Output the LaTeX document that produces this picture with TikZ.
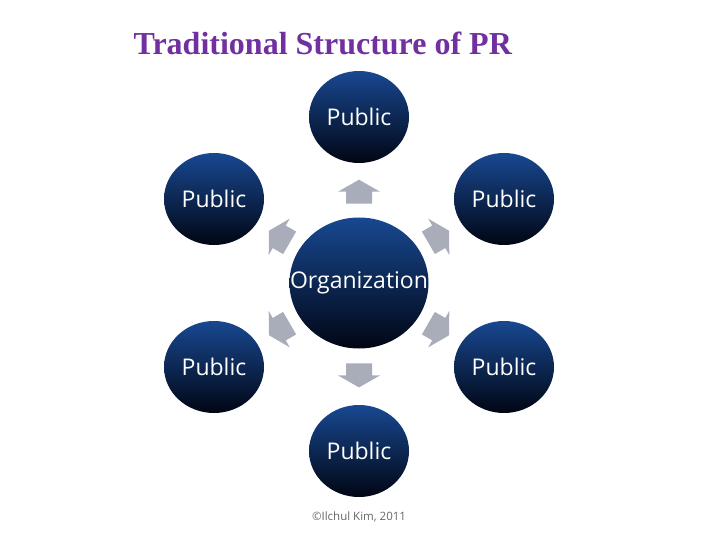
\documentclass[tikz,border=0pt]{standalone}
\usepackage{fontspec}
\setmainfont{Liberation Serif}
\newfontfamily\uifont{Open Sans}
\usetikzlibrary{shapes.geometric,positioning}

\definecolor{prblue}{RGB}{24,72,145}
\definecolor{prmid}{RGB}{14,46,100}
\definecolor{prdark}{RGB}{1,6,20}
\definecolor{prgrey}{RGB}{169,173,186}
\definecolor{prpurple}{RGB}{112,48,160}

% text that does not widen its ellipse
\newcommand{\blobtext}[1]{\makebox[0pt]{#1}}

\tikzset{
  blob/.style={ellipse, inner sep=0pt, text=white,
    top color=prblue, middle color=prmid, bottom color=prdark,
    font=\uifont\fontsize{23}{27}\selectfont},
  public/.style={blob, minimum width=100pt, minimum height=92pt},
  center/.style={blob, minimum width=139pt, minimum height=131pt},
  outarrow/.pic={
    \fill[prgrey] (-12,-13) -- (0,-13) -- (0,-21) -- (12,0)
      -- (0,21) -- (0,13) -- (-12,13) -- cycle;
  }
}

\begin{document}
\begin{tikzpicture}[x=1pt,y=-1pt]
    \useasboundingbox (0,0) rectangle (720,540);
    % \draw[help lines,step=20] (0,0) grid (720,540);
		\node[anchor=base west, text=prpurple, font=\bfseries\fontsize{32}{36}\selectfont]
		    (title) at (130,55) {Traditional Structure of PR};
		\node[center] (org)    at (359,283) {\blobtext{Organization}};
		\node[public] (pubN)   at (359,117) {\blobtext{Public}};
		\node[public] (pubNW)  at (214,199) {\blobtext{Public}};
		\node[public] (pubNE)  at (504,199) {\blobtext{Public}};
		\node[public] (pubSW)  at (214,367) {\blobtext{Public}};
		\node[public] (pubSE)  at (504,367) {\blobtext{Public}};
		\node[public] (pubS)   at (359,451) {\blobtext{Public}};
		\foreach \p in {pubN,pubNW,pubNE,pubSW,pubSE,pubS}
		    \path (org.center) -- (\p.center)
		        pic[pos=0.55, sloped, allow upside down] {outarrow};
		\node[text=black!60, font=\uifont\fontsize{11.5}{14}\selectfont]
		    (credit) at (359,517) {©Ilchul Kim, 2011};
\end{tikzpicture}
\end{document}
